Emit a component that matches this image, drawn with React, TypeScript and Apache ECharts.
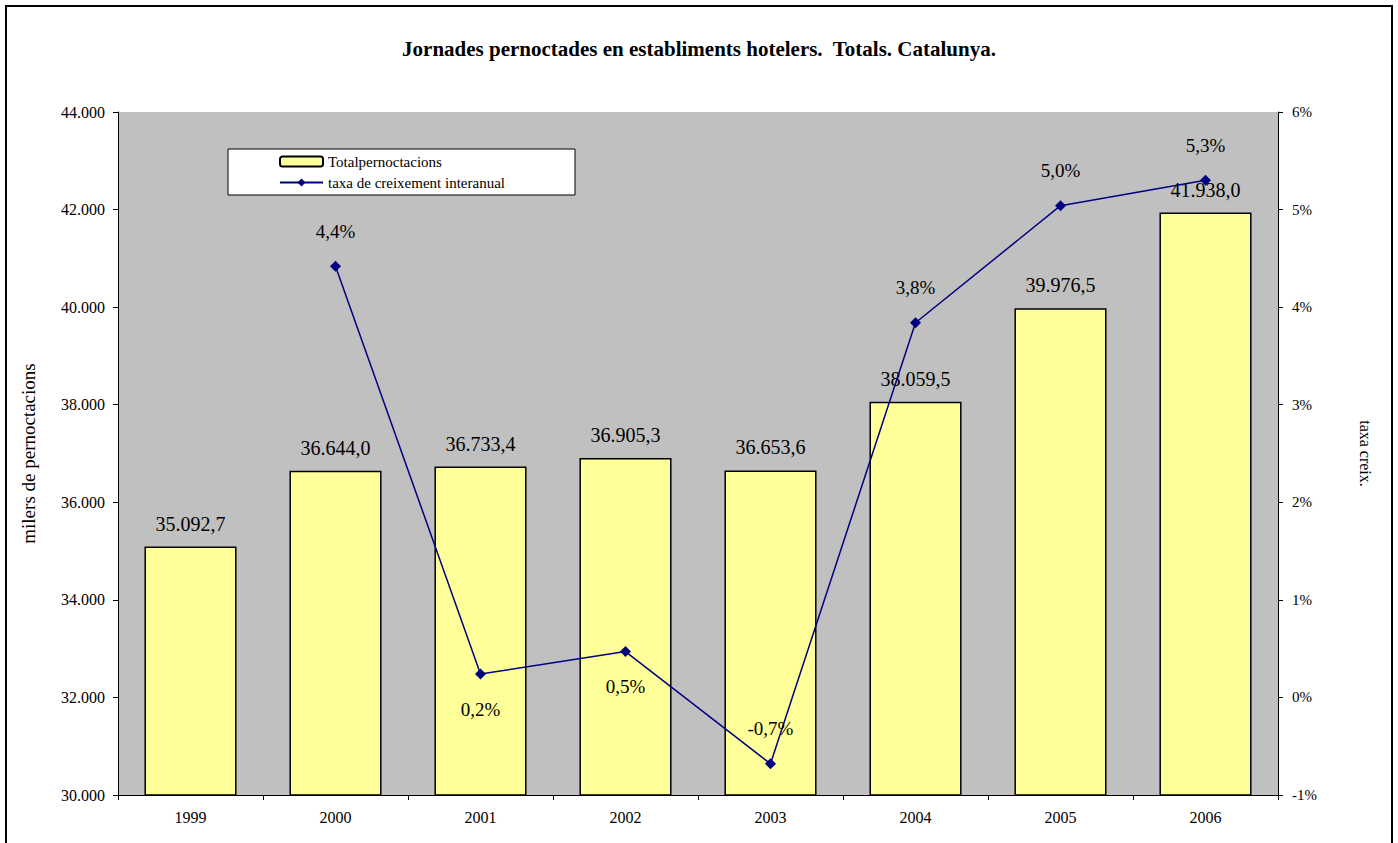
import React, { useEffect, useRef } from "react";
import * as echarts from "echarts";

const years = ["1999", "2000", "2001", "2002", "2003", "2004", "2005", "2006"];
const totalPernoctacions = [35092.7, 36644.0, 36733.4, 36905.3, 36653.6, 38059.5, 39976.5, 41938.0];
const taxaCreixement: (number | null)[] = [null, 4.42, 0.24, 0.47, -0.68, 3.84, 5.04, 5.3];
const lineLabelBelow = [false, false, true, true, false, false, false, false];

const serif = "'Liberation Serif', 'Times New Roman', serif";

function fmtThousands(v: number, decimals: number): string {
  const s = v.toFixed(decimals);
  const [intPart, dec] = s.split(".");
  const neg = intPart.startsWith("-");
  const digits = neg ? intPart.slice(1) : intPart;
  const withDots = digits.replace(/\B(?=(\d{3})+(?!\d))/g, ".");
  return (neg ? "-" : "") + withDots + (dec !== undefined ? "," + dec : "");
}

export default function App() {
  const ref = useRef<HTMLDivElement>(null);
  useEffect(() => {
    document.body.style.margin = "0";
    if (!ref.current) return;
    const chart = echarts.init(ref.current, null, { renderer: "svg" });
    chart.setOption({
      animation: false,
      backgroundColor: "#ffffff",
      title: {
        text: "Jornades pernoctades en establiments hotelers.  Totals. Catalunya.",
        left: "center",
        top: 33,
        textStyle: { fontFamily: serif, fontSize: 21, fontWeight: "bold", color: "#000" },
      },
      graphic: [
        {
          type: "rect",
          shape: { x: 6, y: 6, width: 1386, height: 900 },
          style: { fill: "none", stroke: "#000", lineWidth: 2 },
          z: -10,
          silent: true,
        },
      ],
      legend: {
        orient: "vertical",
        left: 228,
        top: 149,
        backgroundColor: "#ffffff",
        borderColor: "#000",
        borderWidth: 1,
        padding: [5, 70, 5, 51],
        itemGap: 6,
        itemWidth: 43,
        itemHeight: 10,
        textStyle: { fontFamily: serif, fontSize: 15, color: "#000" },
        data: ["Totalpernoctacions", "taxa de creixement interanual"],
      },
      grid: {
        left: 118,
        right: 120,
        top: 112,
        bottom: 48,
        show: true,
        backgroundColor: "#C0C0C0",
        borderWidth: 0,
      },
      xAxis: {
        type: "category",
        data: years,
        axisLine: { onZero: false, lineStyle: { color: "#000", width: 1 } },
        axisTick: { show: true, alignWithLabel: false, length: 5, lineStyle: { color: "#000" } },
        axisLabel: { fontFamily: serif, fontSize: 16, color: "#000", margin: 14 },
      },
      yAxis: [
        {
          type: "value",
          min: 30000,
          max: 44000,
          interval: 2000,
          name: "milers de pernoctacions",
          nameLocation: "middle",
          nameGap: 80,
          nameTextStyle: { fontFamily: serif, fontSize: 19, color: "#000" },
          axisLine: { show: true, lineStyle: { color: "#000" } },
          axisTick: { show: true, length: 5, lineStyle: { color: "#000" } },
          axisLabel: {
            fontFamily: serif,
            fontSize: 16,
            color: "#000",
            margin: 13,
            formatter: (v: number) => fmtThousands(v, 0),
          },
          splitLine: { show: false },
        },
        {
          type: "value",
          min: -1,
          max: 6,
          interval: 1,
          name: "taxa creix.",
          nameLocation: "middle",
          nameGap: 79,
          nameRotate: 270,
          nameTextStyle: { fontFamily: serif, fontSize: 16, color: "#000" },
          axisLine: { show: true, lineStyle: { color: "#000" } },
          axisTick: { show: true, length: 5, lineStyle: { color: "#000" } },
          axisLabel: {
            fontFamily: serif,
            fontSize: 15,
            color: "#000",
            margin: 14,
            formatter: (v: number) => `${v}%`,
          },
          splitLine: { show: false },
        },
      ],
      series: [
        {
          name: "Totalpernoctacions",
          type: "bar",
          data: totalPernoctacions,
          barWidth: "63.5%",
          itemStyle: { color: "#FFFF99", borderColor: "#000", borderWidth: 1.5 },
          label: {
            show: true,
            position: "top",
            distance: 13,
            fontFamily: serif,
            fontSize: 20,
            color: "#000",
            formatter: (p: any) => fmtThousands(p.value, 1),
          },
        },
        {
          name: "taxa de creixement interanual",
          type: "line",
          yAxisIndex: 1,
          data: taxaCreixement.map((v, i) => ({
            value: v,
            label: { position: lineLabelBelow[i] ? "bottom" : "top" },
          })),
          symbol: "diamond",
          symbolSize: 11,
          lineStyle: { color: "#000080", width: 1.5 },
          itemStyle: { color: "#000080" },
          label: {
            show: true,
            distance: 20,
            fontFamily: serif,
            fontSize: 19,
            color: "#000",
            formatter: (p: any) => fmtThousands(p.value, 1) + "%",
          },
        },
      ],
    });
    return () => chart.dispose();
  }, []);
  return <div ref={ref} style={{ width: 1398, height: 843 }} />;
}
